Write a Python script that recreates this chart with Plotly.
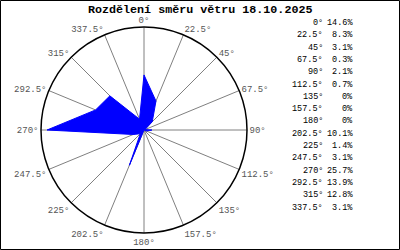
import plotly.graph_objects as go

directions = [0, 22.5, 45, 67.5, 90, 112.5, 135, 157.5, 180, 202.5, 225, 247.5, 270, 292.5, 315, 337.5]
direction_labels = ["0°", "22.5°", "45°", "67.5°", "90°", "112.5°", "135°", "157.5°", "180°",
                    "202.5°", "225°", "247.5°", "270°", "292.5°", "315°", "337.5°"]
percent = [14.6, 8.3, 3.1, 0.3, 2.1, 0.7, 0, 0, 0, 10.1, 1.4, 3.1, 25.7, 13.9, 12.8, 3.1]
title_text = "Rozdělení směru větru 18.10.2025"

W, H = 400, 250
cx, cy, R = 144, 130, 103

fig = go.Figure()
fig.add_trace(go.Scatterpolar(
    r=percent + [percent[0]],
    theta=directions + [directions[0]],
    mode="lines",
    fill="toself",
    fillcolor="#0000FF",
    line=dict(color="#0000FF", width=1),
    hoverinfo="skip",
))

mono = "Liberation Mono, DejaVu Sans Mono, monospace"

fig.update_layout(
    width=W, height=H,
    margin=dict(l=0, r=0, t=0, b=0),
    paper_bgcolor="white",
    plot_bgcolor="white",
    showlegend=False,
    polar=dict(
        domain=dict(x=[(cx - R) / W, (cx + R) / W], y=[(H - cy - R) / H, (H - cy + R) / H]),
        bgcolor="white",
        radialaxis=dict(range=[0, 27.3], showgrid=False, showticklabels=False,
                        showline=False, ticks=""),
        angularaxis=dict(
            rotation=90, direction="clockwise",
            tickmode="array", tickvals=directions, ticktext=direction_labels,
            showgrid=True, gridcolor="#808080", gridwidth=1,
            showline=True, linecolor="black", linewidth=1.5,
            ticks="", tickfont=dict(family=mono, size=9, color="#555555"),
        ),
    ),
)

fig.add_annotation(
    x=200 / W, y=1 - 9.5 / H, xref="paper", yref="paper",
    text="<b>" + title_text + "</b>", showarrow=False,
    font=dict(family=mono, size=11.7, color="black"),
    xanchor="center", yanchor="middle",
)

row0, dy = 23, 12.3
for i, (lab, p) in enumerate(zip(direction_labels, percent)):
    y = 1 - (row0 + i * dy) / H
    fig.add_annotation(x=325 / W, y=y, xref="paper", yref="paper", text=lab,
                       showarrow=False, xanchor="right", yanchor="middle",
                       font=dict(family=mono, size=8.5, color="black"))
    ptxt = ("%g" % p) + "%" if p == 0 else ("%.1f" % p) + "%"
    fig.add_annotation(x=355 / W, y=y, xref="paper", yref="paper", text=ptxt,
                       showarrow=False, xanchor="right", yanchor="middle",
                       font=dict(family=mono, size=8.5, color="black"))

fig.add_shape(type="rect", xref="paper", yref="paper",
              x0=0.5 / W, x1=1 - 0.5 / W, y0=0.5 / H, y1=1 - 0.5 / H,
              line=dict(color="black", width=1))

fig.write_html("out.html")
